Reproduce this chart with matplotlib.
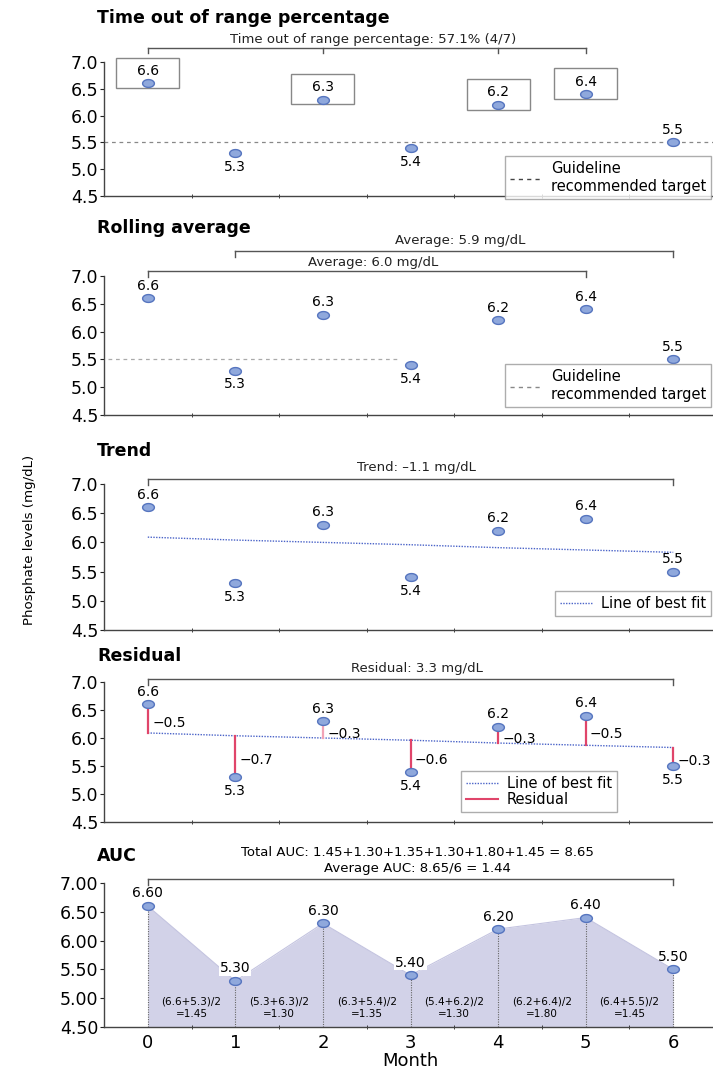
import numpy as np
import matplotlib
matplotlib.use("Agg")
import matplotlib.pyplot as plt
from matplotlib.patches import Rectangle
from matplotlib.lines import Line2D
from matplotlib.path import Path

plt.rcParams['font.family'] = ['DejaVu Sans']

months = [0, 1, 2, 3, 4, 5, 6]
phosphate = [6.6, 5.3, 6.3, 5.4, 6.2, 6.4, 5.5]
target = 5.5
# line of best fit, read at each month
best_fit = [6.09, 6.04, 6.00, 5.96, 5.91, 5.87, 5.83]
residual_labels = ["\u22120.5", "\u22120.7", "\u22120.3", "\u22120.6", "\u22120.3", "\u22120.5", "\u22120.3"]
out_of_range = [0, 2, 4, 5]
auc_labels = ["(6.6+5.3)/2\n=1.45", "(5.3+6.3)/2\n=1.30", "(6.3+5.4)/2\n=1.35",
              "(5.4+6.2)/2\n=1.30", "(6.2+6.4)/2\n=1.80", "(6.4+5.5)/2\n=1.45"]

panel_titles = ["Time out of range percentage", "Rolling average", "Trend", "Residual", "AUC"]

FACE = "#8fa8dc"
EDGE = "#5675bf"
RED = "#e0456a"
GRAY = "#555555"
FIT = "#4a63c8"

# the source picture is stretched sideways, so the dots are flat ellipses
t = np.linspace(0, 2 * np.pi, 40)
ELLIPSE = Path(np.column_stack([1.5 * np.cos(t), np.sin(t)]), closed=True)

W, H = 713, 1071
fig = plt.figure(figsize=(W / 100, H / 100), dpi=100)

# axes extents in pixels (top, bottom)
extents = [(62, 196), (276, 415), (484, 630), (682, 822), (883, 1027)]
title_y = [18, 228, 451, 656, 856]
x_left, x_right = 104, 717

axes = []
for (top, bot) in extents:
    ax = fig.add_axes([x_left / W, 1 - bot / H, (x_right - x_left) / W, (bot - top) / H])
    axes.append(ax)


def style(ax, last=False):
    ax.set_xlim(-0.5, 6.5)
    ax.set_ylim(4.5, 7.0)
    ax.set_yticks(np.arange(4.5, 7.01, 0.5))
    for s in ["top", "right"]:
        ax.spines[s].set_visible(False)
    for s in ["left", "bottom"]:
        ax.spines[s].set_color("#444444")
        ax.spines[s].set_linewidth(1.0)
    ax.set_xticks(months)
    ax.set_xticks(np.arange(0.5, 6.6, 1.0), minor=True)
    ax.tick_params(axis="x", which="major", length=0, labelsize=13, pad=5)
    ax.tick_params(axis="x", which="minor", length=3, direction="inout", color="#222222")
    ax.tick_params(axis="y", length=3, direction="out", labelsize=12.5, pad=1, color="#222222")
    if not last:
        ax.set_xticklabels([])


def bracket(ax, x0, x1, y, ticks=None, text=None, ty=None):
    tr = ax.get_xaxis_transform()
    ax.plot([x0, x1], [y, y], color=GRAY, lw=1.0, transform=tr, clip_on=False)
    ticks = ticks if ticks is not None else [x0, x1]
    h = 0.04
    for tk in ticks:
        ax.plot([tk, tk], [y, y - h], color=GRAY, lw=1.0, transform=tr, clip_on=False)
    if text is not None:
        ax.text((x0 + x1) / 2 + 0.07, ty, text, transform=tr, ha="center", va="center",
                fontsize=9.5, color="#222222")


def dots(ax):
    ax.scatter(months, phosphate, s=72, marker=ELLIPSE, color=FACE, edgecolor=EDGE,
               linewidth=1.0, zorder=5)


def points(ax, fmt="{:.1f}", below=None):
    dots(ax)
    for i, (m, v) in enumerate(zip(months, phosphate)):
        is_below = below(i) if below else v < target
        if is_below:
            ax.annotate(fmt.format(v), (m, v), xytext=(0, -5), textcoords="offset points",
                        ha="center", va="top", fontsize=10, zorder=6)
        else:
            ax.annotate(fmt.format(v), (m, v), xytext=(0, 4), textcoords="offset points",
                        ha="center", va="bottom", fontsize=10, zorder=6)


def legend(ax, handles, labels, anchor):
    leg = ax.legend(handles, labels, loc="lower left", bbox_to_anchor=anchor,
                    borderaxespad=0, fontsize=10.5, frameon=True, fancybox=False,
                    shadow=False, handlelength=2.2, borderpad=0.35, labelspacing=0.05,
                    handletextpad=0.6)
    leg.get_frame().set_edgecolor("#999999")
    leg.get_frame().set_linewidth(1.0)


for i, ax in enumerate(axes):
    style(ax, last=(i == 4))
    fig.text(97 / W, 1 - title_y[i] / H, panel_titles[i], fontsize=12.5, fontweight="bold",
             va="center", ha="left")

guide_handle = Line2D([], [], color="#444444", ls=(0, (3, 3)), lw=1.0)
fit_handle = Line2D([], [], color=FIT, ls=(0, (1, 1)), lw=1.0)
res_handle = Line2D([], [], color=RED, lw=1.5)

# Panel 1: time out of range
ax = axes[0]
ax.axhline(target, color="#888888", ls=(0, (3, 3)), lw=0.9, zorder=1)
points(ax)
for i in out_of_range:
    ax.add_patch(Rectangle((months[i] - 0.36, phosphate[i] - 0.09), 0.72, 0.57,
                           fill=False, edgecolor="#888888", lw=1.0, clip_on=False))
bracket(ax, 0, 5, 1.104, ticks=[0, 2, 4, 5],
        text="Time out of range percentage: 57.1% (4/7)", ty=1.17)
legend(ax, [guide_handle], ["Guideline\nrecommended target"], (0.654, -0.022))

# Panel 2: rolling average
ax = axes[1]
ax.plot([-0.45, 2.85], [target, target], color="#aaaaaa", ls=(0, (3, 3)), lw=0.9, zorder=1)
points(ax)
bracket(ax, 1, 6, 1.18, text="Average: 5.9 mg/dL", ty=1.255)
bracket(ax, 0, 5, 1.036, text="Average: 6.0 mg/dL", ty=1.10)
legend(ax, [Line2D([], [], color="#888888", ls=(0, (3, 3)), lw=1.0)],
       ["Guideline\nrecommended target"], (0.654, 0.058))

# Panel 3: trend
ax = axes[2]
ax.plot(months, best_fit, color=FIT, ls=(0, (1, 1)), lw=1.0, zorder=2)
points(ax, below=lambda i: phosphate[i] < best_fit[i] and i != 6)
bracket(ax, 0, 6, 1.034, text="Trend: \u20131.1 mg/dL", ty=1.11)
legend(ax, [fit_handle], ["Line of best fit"], (0.736, 0.096))

# Panel 4: residual
ax = axes[3]
ax.plot(months, best_fit, color=FIT, ls=(0, (1, 1)), lw=1.0, zorder=2)
for i, (m, v, f) in enumerate(zip(months, phosphate, best_fit)):
    c = "#f2a3b6" if i == 2 else RED
    ax.plot([m, m], [v, f], color=c, lw=1.6, zorder=3)
    ax.text(m + 0.05, (v + f) / 2 - 0.07, residual_labels[i], ha="left", va="center", fontsize=10)
points(ax, below=lambda i: phosphate[i] < best_fit[i])
bracket(ax, 0, 6, 1.021, text="Residual: 3.3 mg/dL", ty=1.093)
legend(ax, [fit_handle, res_handle], ["Line of best fit", "Residual"], (0.582, 0.071))

# Panel 5: AUC
ax = axes[4]
ax.set_yticks(np.arange(4.5, 7.01, 0.5))
ax.set_yticklabels([f"{v:.2f}" for v in np.arange(4.5, 7.01, 0.5)])
ax.fill_between(months, 4.5, phosphate, color="#d2d2e8", lw=0, zorder=1)
ax.plot(months, phosphate, color="#c4c4e0", lw=0.8, zorder=1)
for m, v in zip(months, phosphate):
    ax.plot([m, m], [4.5, v], color="#666666", ls=(0, (1, 1.2)), lw=0.8, zorder=2)
dots(ax)
for m, v in zip(months, phosphate):
    ax.annotate(f"{v:.2f}", (m, v), xytext=(0, 4), textcoords="offset points",
                ha="center", va="bottom", fontsize=10, zorder=6,
                bbox=dict(boxstyle="square,pad=0.05", fc="white", ec="none") if v < 5.45 else None)
for k, lab in enumerate(auc_labels):
    ax.text(months[k] + 0.5, 4.83, lab, ha="center", va="center", fontsize=7.5,
            linespacing=1.3, zorder=4)
bracket(ax, 0, 6, 1.028)
ax.text(3.08, 1.215, "Total AUC: 1.45+1.30+1.35+1.30+1.80+1.45 = 8.65",
        transform=ax.get_xaxis_transform(), ha="center", va="center", fontsize=9.5)
ax.text(3.08, 1.104, "Average AUC: 8.65/6 = 1.44",
        transform=ax.get_xaxis_transform(), ha="center", va="center", fontsize=9.5)
ax.set_xlabel("Month", fontsize=13, labelpad=0)

fig.text(30 / W, 1 - 540 / H, "Phosphate levels (mg/dL)", rotation=90,
         ha="center", va="center", fontsize=9.6)

fig.savefig("out.png", dpi=100)
